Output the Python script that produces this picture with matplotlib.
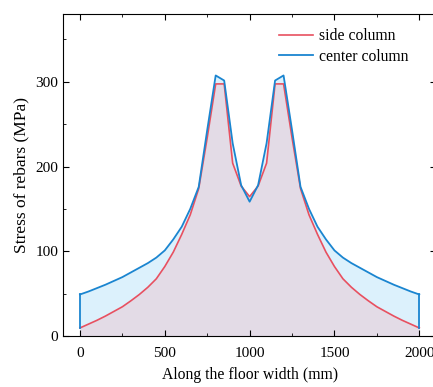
import matplotlib.pyplot as plt
from matplotlib.ticker import MultipleLocator

plt.rcParams['font.family'] = ['Liberation Serif', 'DejaVu Serif']

x = [0, 50, 100, 150, 200, 250, 300, 350, 400, 450, 500, 550, 600, 650, 700, 750, 800, 850, 900, 950,
     1000, 1050, 1100, 1150, 1200, 1250, 1300, 1350, 1400, 1450, 1500, 1550, 1600, 1650, 1700, 1750,
     1800, 1850, 1900, 1950, 2000]
side = [9.5, 14, 18.5, 23.5, 29, 34.5, 41.5, 49, 57.5, 67.5, 82, 99, 120, 143, 174, 234, 297.5, 297.5, 204, 177,
        164.5, 177, 204, 297.5, 297.5, 234, 174, 143, 120, 99, 82, 67.5, 57.5, 49, 41.5, 34.5,
        29, 23.5, 18.5, 14, 9.5]
center = [49, 52.5, 56.5, 60.5, 65, 69.5, 75, 80.5, 86, 92.5, 101, 114, 129, 150, 176, 243, 307.5, 301.5, 227.5, 178,
          158.5, 178, 227.5, 301.5, 307.5, 243, 176, 150, 129, 114, 101, 92.5, 86, 80.5, 75, 69.5,
          65, 60.5, 56.5, 52.5, 49]

fig = plt.figure(figsize=(4.33, 3.87), dpi=100)
ax = fig.add_axes([0.1455, 0.1318, 0.862, 0.832])

ax.fill_between(x, 0, center, color='#dcf1fc', lw=0)
ax.fill_between(x, 0, side, color='#e3dbe6', lw=0)
ax.plot(x, side, color='#e85060', lw=1.2, label='side column')
ax.plot(x, center, color='#1a85d0', lw=1.3, label='center column')
ax.plot([0, 0], [side[0], center[0]], color='#1a85d0', lw=1.3)
ax.plot([2000, 2000], [side[-1], center[-1]], color='#1a85d0', lw=1.3)

ax.set_xlim(-100, 2100)
ax.set_ylim(0, 380)
ax.xaxis.set_major_locator(MultipleLocator(500))
ax.xaxis.set_minor_locator(MultipleLocator(250))
ax.yaxis.set_major_locator(MultipleLocator(100))
ax.yaxis.set_minor_locator(MultipleLocator(50))
ax.tick_params(which='both', direction='in', top=True, right=True, labelsize=11)
ax.tick_params(axis='x', pad=8)
ax.tick_params(which='major', length=4)
ax.tick_params(which='minor', length=2)

ax.set_xlabel('Along the floor width (mm)', fontsize=11.3, labelpad=5)
ax.set_ylabel('Stress of rebars (MPa)', fontsize=12.5, labelpad=4)
ax.legend(loc='upper left', bbox_to_anchor=(0.54, 1.0), frameon=False, fontsize=11.3,
          handlelength=2.2, handletextpad=0.4, labelspacing=0.3)

fig.savefig('out.png', dpi=100)
